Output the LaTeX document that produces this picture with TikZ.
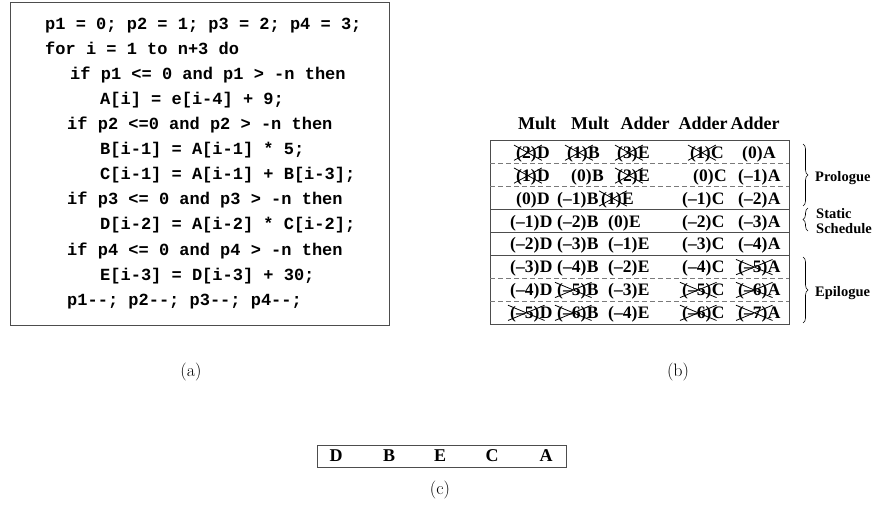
\documentclass[tikz,border=0pt]{standalone}
\usepackage{fontspec}
\newfontfamily\codefont{Liberation Mono}
\newfontfamily\tabfont{Liberation Serif}
\usetikzlibrary{decorations.pathreplacing}
\definecolor{cframe}{HTML}{4D4D4D}
\definecolor{cdash}{HTML}{7A7A7A}
\tikzset{
  code/.style={anchor=base west, inner sep=0pt, font=\codefont\bfseries\fontsize{17}{20}\selectfont},
  cell/.style={anchor=base west, inner sep=0pt, font=\tabfont\bfseries\fontsize{17.5}{20}\selectfont},
  letter/.style={inner sep=0pt, font=\tabfont\bfseries\fontsize{18}{20}\selectfont},
  head/.style={inner sep=0pt, font=\tabfont\bfseries\fontsize{18}{20}\selectfont},
  side/.style={anchor=west, inner sep=0pt, align=left, font=\tabfont\bfseries\fontsize{14.5}{15}\selectfont},
  caption/.style={inner sep=0pt, font=\fontsize{18}{20}\selectfont},
  frame/.style={draw=cframe, line width=1pt, inner sep=0pt},
  rowline/.style={cframe, line width=1pt},
  dashline/.style={cdash, line width=0.9pt, dash pattern=on 4.5pt off 3.5pt},
  xline/.style={line width=0.8pt},
  bracket/.style={decorate, decoration={brace, amplitude=5pt}, line width=0.6pt},
}

\begin{document}
\begin{tikzpicture}[x=1pt, y=-1pt]
  \useasboundingbox (0,0) rectangle (880,529);
  % (a) the loop
  \node[frame, minimum width=379pt, minimum height=322.5pt] (codebox) at (199.5,163.75) {};
  \foreach \i/\xx/\txt in {
    0/45/{p1 = 0; p2 = 1; p3 = 2; p4 = 3;},
    1/45/{for i = 1 to n+3 do},
    2/70/{if p1 <= 0 and p1 > -n then},
    3/100/{A[i] = e[i-4] + 9;},
    4/67/{if p2 <=0 and p2 > -n then},
    5/100/{B[i-1] = A[i-1] * 5;},
    6/100/{C[i-1] = A[i-1] + B[i-3];},
    7/67/{if p3 <= 0 and p3 > -n then},
    8/100/{D[i-2] = A[i-2] * C[i-2];},
    9/67/{if p4 <= 0 and p4 > -n then},
    10/100/{E[i-3] = D[i-3] + 30;},
    11/67/{p1-{}-; p2-{}-; p3-{}-; p4-{}-;}}
    \node[code] (code\i) at (\xx,30+25*\i) {\txt};
  \node[caption] (capa) at (191,372) {(a)};

  % (b) the schedule table
  \foreach \xx/\txt [count=\k] in {537/Mult, 590/Mult, 645/Adder, 703/Adder, 755/Adder}
    \node[head] (head\k) at (\xx,123) {\txt};
  \draw[rowline] (490,141) rectangle (789,324);
  \foreach \yy in {209.6,232.5,255.4} \draw[rowline] (490,\yy) -- (789,\yy);
  \foreach \yy in {163.9,186.8,278.3,301.1} \draw[dashline] (490,\yy) -- (789,\yy);
  \foreach \row/\entries in {
    1/{516/2/D/1, 567/1/B/1, 617/3/E/1, 690/1/C/1, 742/0/A/0},
    2/{516/1/D/1, 571/0/B/0, 617/2/E/1, 693/0/C/0, 738/–1/A/0},
    3/{516/0/D/0, 557/–1/B/0, 601/1/E/1, 682/–1/C/0, 738/–2/A/0},
    4/{510/–1/D/0, 557/–2/B/0, 608/0/E/0, 682/–2/C/0, 738/–3/A/0},
    5/{510/–2/D/0, 557/–3/B/0, 608/–1/E/0, 682/–3/C/0, 738/–4/A/0},
    6/{510/–3/D/0, 557/–4/B/0, 608/–2/E/0, 682/–4/C/0, 738/–5/A/1},
    7/{510/–4/D/0, 557/–5/B/1, 608/–3/E/0, 682/–5/C/1, 738/–6/A/1},
    8/{510/–5/D/1, 557/–6/B/1, 608/–4/E/0, 682/–6/C/1, 738/–7/A/1}}{
    \pgfmathsetmacro\yb{141+22.875*(\row-0.5)+6}
    \foreach \xx/\nn/\ltr/\gone in \entries {
      \node[cell] (n\row\ltr) at (\xx,\yb) {(\nn)};
      \node[cell] (l\row\ltr) at (n\row\ltr.base east) {\ltr};
      \ifnum\gone=1
        % struck out: not executed
        \draw[xline] ([xshift=-2pt,yshift=2pt]n\row\ltr.south west) -- ([xshift=5pt,yshift=1pt]n\row\ltr.north east)
                     ([xshift=-2pt,yshift=1pt]n\row\ltr.north west) -- ([xshift=5pt,yshift=2pt]n\row\ltr.south east);
      \fi
    }
  }
  \draw[bracket] (803,144) -- (803,206);
  \draw[bracket] (808,231) -- (808,208);
  \draw[bracket] (803,257) -- (803,323);
  \node[side] (prologue) at (815,178) {Prologue};
  \node[side] (static) at (816,221) {Static\\Schedule};
  \node[side] (epilogue) at (815,293) {Epilogue};
  \node[caption] (capb) at (678,372) {(b)};

  % (c) the order
  \node[frame, minimum width=249pt, minimum height=22pt] (order) at (441.5,456) {};
  \foreach \xx/\ltr in {336/D, 389/B, 440/E, 492/C, 546/A}
    \node[letter] (o\ltr) at (\xx,456) {\ltr};
  \node[caption] (capc) at (440,490) {(c)};
\end{tikzpicture}
\end{document}
